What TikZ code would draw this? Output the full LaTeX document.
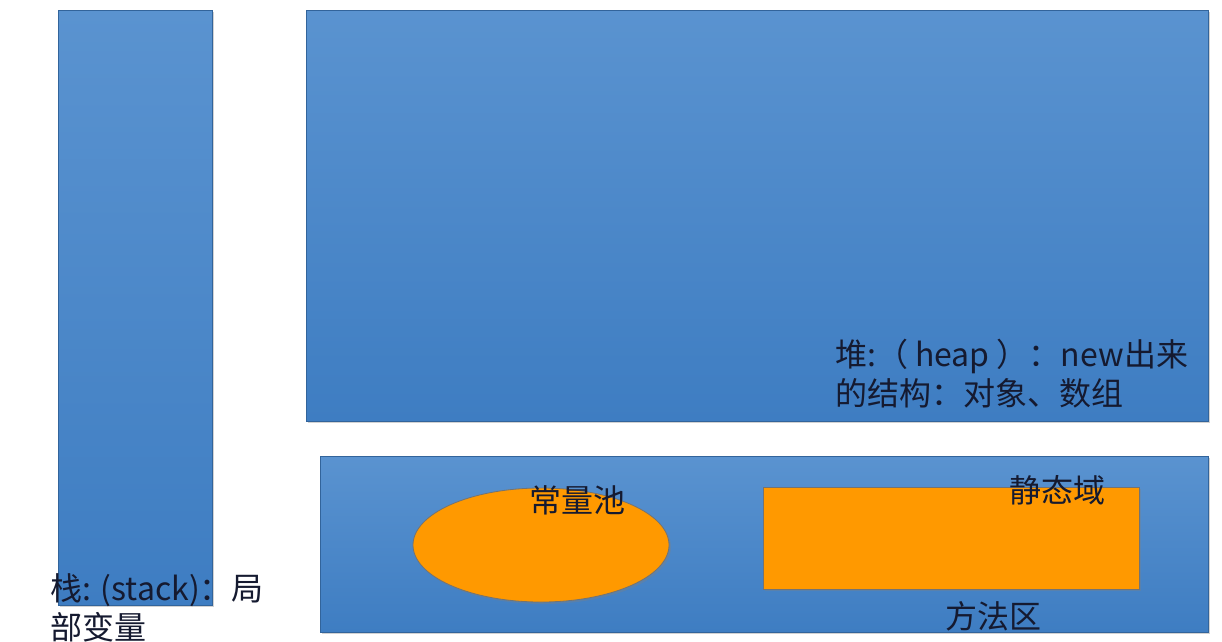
\documentclass[tikz,border=0pt]{standalone}
\usepackage{fontspec}
\setmainfont{Noto Sans CJK SC}
\usetikzlibrary{shapes.geometric,shadows}
\definecolor{areablue}{HTML}{4A88CA}
\definecolor{areatop}{HTML}{5A93D0}
\definecolor{areabot}{HTML}{3E7DC2}
\definecolor{poolorange}{HTML}{FF9900}
\definecolor{inktext}{HTML}{151A30}
\begin{document}
\begin{tikzpicture}[
x=1pt,y=-1pt,
font=\fontsize{32}{39}\selectfont,
area/.style={
rectangle,
draw=areabot!80!black,
line width=0.6pt,
top color=areatop,
bottom color=areabot,
drop shadow={shadow xshift=2pt,shadow yshift=-2pt,opacity=0.35},
inner sep=0pt
},
part/.style={
draw=black!55,
line width=0.8pt,
fill=poolorange,
drop shadow={shadow xshift=2pt,shadow yshift=-2pt,opacity=0.35},
inner sep=0pt
},
label/.style={
text=inktext,
align=left,
inner sep=0pt
}
]
\useasboundingbox[fill=white] (0,0) rectangle (1222,641);

% the three memory areas
\node[area, minimum width=154pt, minimum height=595pt] (stack) at (135,307.5) {};
\node[area, minimum width=902pt, minimum height=411pt] (heap) at (757,215.5) {};
\node[area, minimum width=888pt, minimum height=176pt] (method) at (764,544) {};

% inside the method area
\node[part, ellipse, minimum width=256pt, minimum height=114pt] (pool) at (541,545) {};
\node[part, rectangle, minimum width=376pt, minimum height=102pt] (static) at (951,538) {};

% texts
\node[label, anchor=west] (heaptext) at (835,373.5)
{堆:（ heap ）：new出来\\的结构：对象、数组};
\node[label, anchor=west] (stacktext) at (50,607.5)
{栈: (stack)：局\\部变量};
\node[label] (pooltext) at (577,500) {常量池};
\node[label] (statictext) at (1057,490) {静态域};
\node[label] (methodtext) at (993,616) {方法区};

\end{tikzpicture}
\end{document}
